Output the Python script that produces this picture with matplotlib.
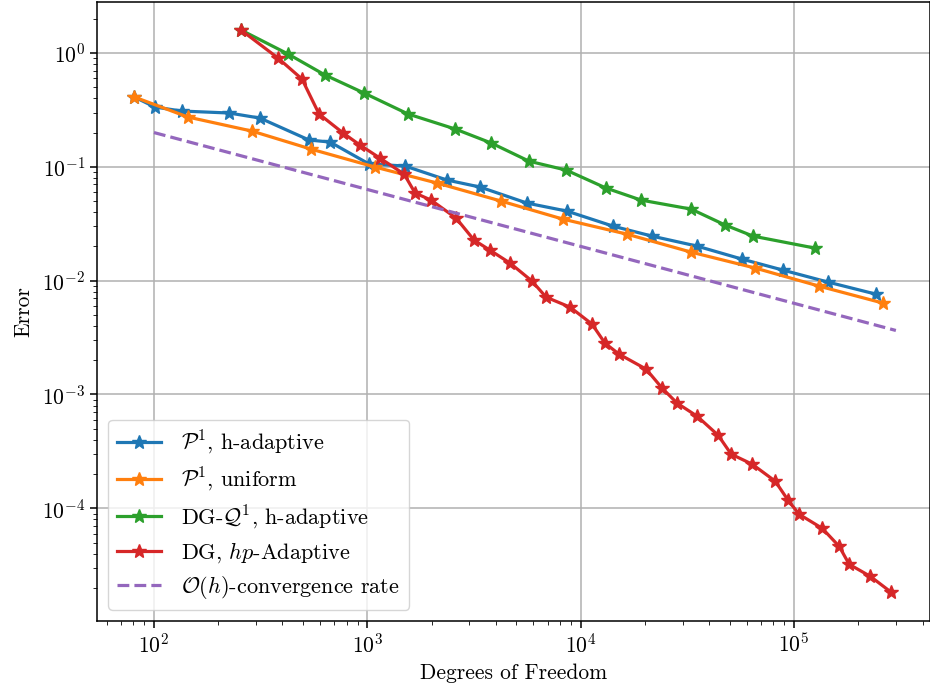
import matplotlib
matplotlib.use("Agg")
import matplotlib.pyplot as plt

plt.rcParams['font.family'] = 'serif'
plt.rcParams['font.serif'] = ['cmr10', 'DejaVu Serif']
plt.rcParams['mathtext.fontset'] = 'cm'
plt.rcParams['axes.formatter.use_mathtext'] = True
plt.rcParams['font.size'] = 15.5
plt.rcParams['xtick.major.size'] = 5
plt.rcParams['ytick.major.size'] = 5
plt.rcParams['xtick.minor.size'] = 3
plt.rcParams['ytick.minor.size'] = 3
plt.rcParams['xtick.major.width'] = 1.1
plt.rcParams['ytick.major.width'] = 1.1
plt.rcParams['axes.linewidth'] = 1.1

# P1, h-adaptive
dof_p1_h = [81, 101, 135, 225, 314, 533, 669, 1018, 1503, 2364, 3377, 5604, 8635,
            14190, 21620, 35140, 57100, 88950, 144600, 242700]
err_p1_h = [0.41, 0.335, 0.309, 0.297, 0.268, 0.172, 0.165, 0.106, 0.1016, 0.0765,
            0.0664, 0.048, 0.0408, 0.0301, 0.0246, 0.0201, 0.01545, 0.01236, 0.0097, 0.0076]

# P1, uniform
dof_p1_u = [81, 144, 288, 545, 1087, 2122, 4238, 8260, 16480, 32950, 65750, 131000, 262000]
err_p1_u = [0.41, 0.274, 0.206, 0.143, 0.0995, 0.072, 0.050, 0.0347, 0.0256, 0.0178,
            0.0129, 0.00895, 0.00634]

# DG-Q1, h-adaptive
dof_dg_q1 = [256, 425, 633, 965, 1553, 2578, 3803, 5730, 8550, 13160, 19190, 32950,
             47550, 64300, 125500]
err_dg_q1 = [1.59, 0.98, 0.641, 0.445, 0.291, 0.215, 0.162, 0.112, 0.0936, 0.065,
             0.051, 0.0425, 0.0308, 0.0246, 0.0193]

# DG, hp-adaptive
dof_dg_hp = [256, 381, 494, 594, 770, 925, 1148, 1487, 1675, 1990, 2608, 3164, 3760,
             4668, 5915, 6883, 8919, 11300, 13000, 15130, 20260, 24090, 28320, 35140,
             44080, 50730, 63660, 81600, 93800, 105700, 135500, 162700, 181300,
             227300, 285300]
err_dg_hp = [1.59, 0.904, 0.59, 0.291, 0.198, 0.155, 0.119, 0.0863, 0.0588, 0.051,
             0.0354, 0.0227, 0.0185, 0.01425, 0.0099, 0.00716, 0.00585, 0.00415,
             0.00282, 0.00226, 0.00167, 0.001135, 0.000838, 0.000644, 0.000438,
             0.000299, 0.000244, 0.000173, 0.0001175, 0.0000885, 0.0000667,
             0.0000463, 0.0000322, 0.0000253, 0.0000183]

# O(h) reference line
dof_rate = [100, 300000]
err_rate = [0.2, 0.00365]

fig = plt.figure(figsize=(9.3, 6.93), dpi=100)
ax = fig.add_axes([97/930, 1 - 621/693, (930 - 97)/930, (621 - 2)/693])

lw = 2.3
ms = 10.5
ax.loglog(dof_p1_h, err_p1_h, '-*', color='#1f77b4', lw=lw, ms=ms,
          label=r'$\mathcal{P}^1$, h-adaptive')
ax.loglog(dof_p1_u, err_p1_u, '-*', color='#ff7f0e', lw=lw, ms=ms,
          label=r'$\mathcal{P}^1$, uniform')
ax.loglog(dof_dg_q1, err_dg_q1, '-*', color='#2ca02c', lw=lw, ms=ms,
          label=r'DG-$\mathcal{Q}^1$, h-adaptive')
ax.loglog(dof_dg_hp, err_dg_hp, '-*', color='#d62728', lw=lw, ms=ms,
          label=r'DG, $hp$-Adaptive')
ax.loglog(dof_rate, err_rate, '--', color='#9467bd', lw=lw,
          label=r'$\mathcal{O}(h)$-convergence rate')

ax.set_xlim(10**1.733, 10**5.637)
ax.set_ylim(10**-4.99, 10**0.448)
ax.grid(True, which='major', color='#b0b0b0', lw=1.1)
ax.set_axisbelow(True)
ax.set_xlabel('Degrees of Freedom', labelpad=5)
ax.set_ylabel('Error', labelpad=6)
ax.legend(loc='lower left', fontsize=16, borderaxespad=0.5,
          labelspacing=0.42, handletextpad=0.9)

fig.savefig('out.png', dpi=100)
